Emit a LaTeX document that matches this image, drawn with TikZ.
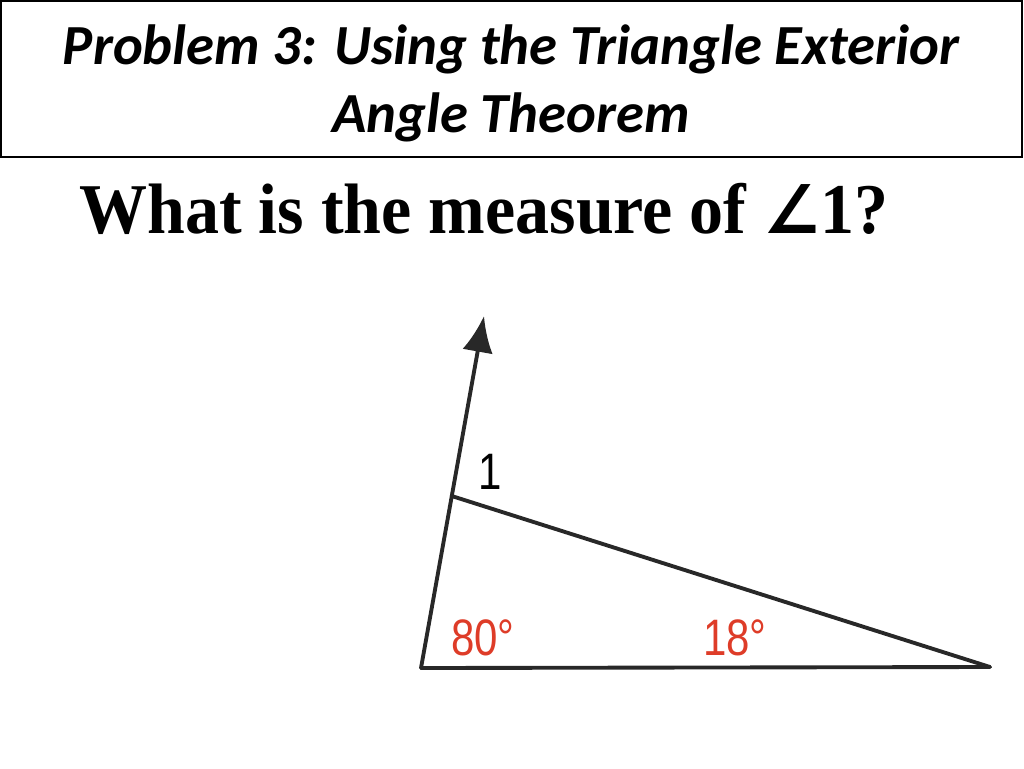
\documentclass[tikz,border=0pt]{standalone}
\usepackage{fontspec}
\setmainfont{Liberation Serif}
\newfontfamily\titlefont{Carlito}
\newfontfamily\labelfont{Liberation Sans}
\newfontfamily\symfont{DejaVu Sans}
\usetikzlibrary{arrows.meta,calc}
\definecolor{angred}{RGB}{222,60,40}
\definecolor{edgegray}{RGB}{40,40,40}
\begin{document}
\begin{tikzpicture}[x=0.75pt,y=-0.75pt,
  titletext/.style={inner sep=0pt,font=\titlefont\bfseries\itshape\fontsize{42.5}{50}\selectfont},
  edge/.style={draw=edgegray,line width=2.9pt,line cap=round,line join=round},
  anglabel/.style={inner sep=0pt,text=angred,font=\labelfont\fontsize{31.5}{36}\selectfont},
  ]
\useasboundingbox (0,0) rectangle (1024,768);
\draw[line width=1.6pt] (1,1) rectangle (1022,157);
\node[titletext,anchor=base] (t1) at (511,64) {Problem 3: Using the Triangle Exterior};
\node[titletext,anchor=base] (t2) at (511,132) {Angle Theorem};
\node[inner sep=0pt,anchor=base west,font=\bfseries\fontsize{51}{56}\selectfont] (q) at (79,233)
  {\scalebox{1}[1.05]{What is the measure of {\symfont\fontsize{48}{56}\selectfont ∠}1?}};
% triangle
\coordinate (A) at (421,668);
\coordinate (C) at (990,667);
\coordinate (tip) at (484,316);
\coordinate (B) at ($(A)!0.4886!(tip)$);
\draw[edge] (A) -- (C);
\draw[edge] (B) -- (C);
\draw[edge,-{Latex[length=27pt,width=23pt]}] (A) -- (tip);
\node[anchor=base,inner sep=0pt,font=\labelfont\fontsize{31.5}{36}\selectfont] (one) at (490,489) {\scalebox{1}[1.22]{1}};
\node[anglabel,anchor=base west] (a80) at (451,655) {\scalebox{1}[1.22]{80°}};
\node[anglabel,anchor=base west] (a18) at (703,655) {\scalebox{1}[1.22]{18°}};
\end{tikzpicture}
\end{document}
